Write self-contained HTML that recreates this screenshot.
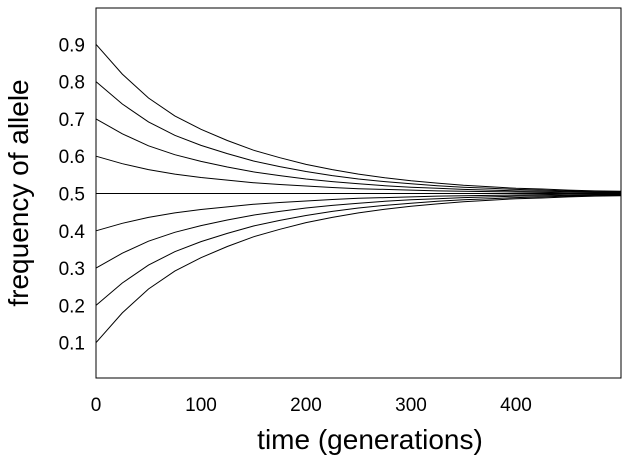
<!DOCTYPE html>
<html><head><meta charset="utf-8"><style>
body{margin:0;background:#fff;}
svg{display:block;font-family:"Liberation Sans",Arial,sans-serif;}
</style></head><body>
<svg id="chart" width="627" height="464" viewBox="0 0 627 464" xmlns="http://www.w3.org/2000/svg">
<rect x="96" y="8" width="525" height="370" fill="#fff" stroke="#000" stroke-width="1"/>
<g id="series"></g>
<g id="xticks"></g>
<g id="yticks"></g>
<text x="370" y="449" font-size="28" text-anchor="middle">time (generations)</text>
<text transform="translate(28,193) rotate(-90)" font-size="28" text-anchor="middle">frequency of allele</text>
</svg>
<script>
const times=[0,25,50,75,100,125,150,175,200,225,250,275,300,325,350,375,400,425,450,475,500];
const s09=[.9,.82,.756,.708,.672,.642,.616,.596,.578,.564,.552,.542,.534,.528,.522,.518,.514,.512,.509,.507,.506];
const s08=[.8,.74,.692,.656,.629,.607,.587,.572,.559,.548,.539,.532,.526,.521,.517,.514,.511,.509,.507,.505,.505];
const s07=[.7,.66,.628,.604,.586,.571,.558,.548,.539,.532,.526,.521,.517,.514,.511,.509,.507,.506,.505,.504,.503];
const s06=[.6,.58,.564,.552,.543,.536,.529,.524,.52,.516,.513,.511,.509,.507,.506,.505,.504,.503,.502,.502,.502];
const s05=[.5,.5,.5,.5,.5,.5,.5,.5,.5,.5,.5,.5,.5,.5,.5,.5,.5,.5,.5,.5,.5];
const s04=[.4,.42,.436,.448,.457,.464,.471,.476,.48,.484,.487,.489,.491,.493,.494,.495,.496,.497,.498,.498,.498];
const s03=[.3,.34,.372,.396,.414,.429,.442,.452,.461,.468,.474,.479,.483,.486,.489,.491,.493,.494,.495,.496,.497];
const s02=[.2,.26,.308,.344,.371,.393,.413,.428,.441,.452,.461,.468,.474,.479,.483,.486,.489,.491,.493,.495,.495];
const s01=[.1,.18,.244,.292,.328,.358,.384,.404,.422,.436,.448,.458,.466,.472,.478,.482,.486,.488,.491,.493,.494];
const allSeries=[s09,s08,s07,s06,s05,s04,s03,s02,s01];
const xTicks=[0,100,200,300,400];
const yTicks=[0.1,0.2,0.3,0.4,0.5,0.6,0.7,0.8,0.9];
const NS="http://www.w3.org/2000/svg";
function xs(t){return 96+t*(525/500);}
function ys(v){return 380-v*373;}
const sg=document.getElementById('series');
allSeries.forEach((s,i)=>{
  const p=document.createElementNS(NS,'polyline');
  p.setAttribute('points',s.map((v,j)=>xs(times[j]).toFixed(1)+','+ys(v).toFixed(1)).join(' '));
  p.setAttribute('fill','none');p.setAttribute('stroke','#000');p.setAttribute('stroke-width','1');
  
  
  sg.appendChild(p);
});
const xg=document.getElementById('xticks');
xTicks.forEach(t=>{
  const tx=document.createElementNS(NS,'text');
  tx.setAttribute('x',xs(t));tx.setAttribute('y',411);tx.setAttribute('font-size','19');tx.setAttribute('text-anchor','middle');
  tx.textContent=t;
  
  
  xg.appendChild(tx);
});
const yg=document.getElementById('yticks');
yTicks.forEach(v=>{
  const tx=document.createElementNS(NS,'text');
  tx.setAttribute('x',85);tx.setAttribute('y',ys(v)+7);tx.setAttribute('font-size','19');tx.setAttribute('text-anchor','end');
  tx.textContent=v.toFixed(1);
  
  
  yg.appendChild(tx);
});
</script>
</body></html>
